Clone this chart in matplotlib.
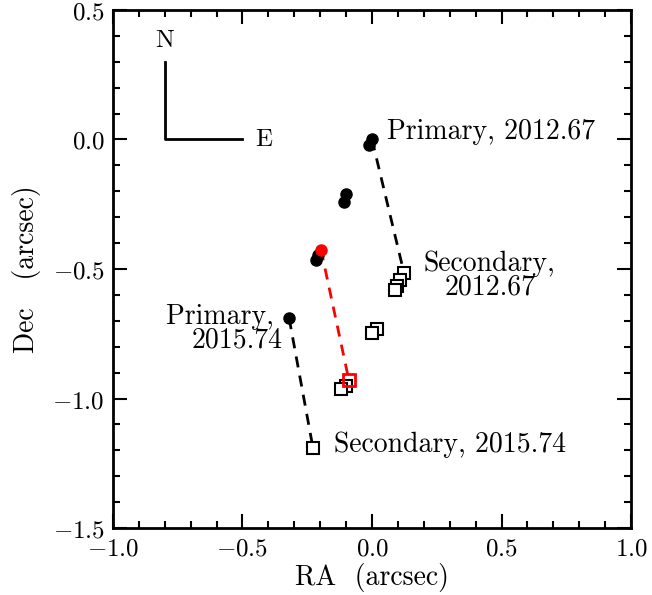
import matplotlib
matplotlib.use("Agg")
import matplotlib.pyplot as plt
from matplotlib.ticker import MultipleLocator

plt.rcParams["mathtext.fontset"] = "cm"
SERIF = ["cmr10", "DejaVu Serif"]

# primary (filled circles), offsets in arcsec
prim_ra = [0.0, -0.01, -0.10, -0.11, -0.216, -0.208, -0.32]
prim_dec = [0.0, -0.02, -0.21, -0.24, -0.467, -0.445, -0.69]
# highlighted primary
red_prim_ra = [-0.197]
red_prim_dec = [-0.425]

# secondary (open squares)
sec_ra = [0.124, 0.108, 0.097, 0.089, 0.019, 0.0, -0.10, -0.12, -0.228]
sec_dec = [-0.517, -0.544, -0.564, -0.583, -0.730, -0.749, -0.95, -0.965, -1.19]
red_sec_ra = [-0.089]
red_sec_dec = [-0.93]

# connecting lines primary -> secondary
pair_2012 = ([0.0, 0.124], [0.0, -0.517])
pair_red = ([-0.197, -0.089], [-0.425, -0.93])
pair_2015 = ([-0.32, -0.228], [-0.69, -1.19])

fig = plt.figure(figsize=(6.52, 5.95), dpi=100)
ax = fig.add_axes([0.1733, 0.1126, 0.7945, 0.8706])

ax.plot(*pair_2012, ls=(0, (4, 3)), color="black", lw=2, zorder=1)
ax.plot(*pair_2015, ls=(0, (4, 3)), color="black", lw=2, zorder=1)
ax.plot(*pair_red, ls=(0, (4, 3)), color="red", lw=2, zorder=1)

ax.plot(prim_ra, prim_dec, "o", color="black", ms=8, zorder=3)
ax.plot(red_prim_ra, red_prim_dec, "o", color="red", ms=8, zorder=4)
ax.plot(sec_ra, sec_dec, "s", mfc="white", mec="black", mew=1.5, ms=9, zorder=3)
ax.plot(red_sec_ra, red_sec_dec, "s", mfc="none", mec="red", mew=2, ms=9, zorder=4)

# compass
ax.plot([-0.8, -0.8, -0.5], [0.3, 0.0, 0.0], color="black", lw=2)
ax.text(-0.8, 0.38, "N", family=SERIF, fontsize=18, ha="center", va="center")
ax.text(-0.42, 0.0, "E", family=SERIF, fontsize=18, ha="center", va="center")

kw = dict(family=SERIF, fontsize=20, va="center")
ax.text(0.058, 0.031, "Primary, 2012.67", ha="left", **kw)
ax.text(0.20, -0.525, "Secondary,\n2012.67", ha="left", multialignment="center",
        linespacing=0.85, **kw)
ax.text(-0.345, -0.73, "Primary, \n2015.74", ha="right", multialignment="right",
        linespacing=0.85, **kw)
ax.text(-0.147, -1.18, "Secondary, 2015.74", ha="left", **kw)

ax.set_xlim(-1.0, 1.0)
ax.set_ylim(-1.5, 0.5)
ax.xaxis.set_minor_locator(MultipleLocator(0.1))
ax.yaxis.set_minor_locator(MultipleLocator(0.1))
ticks = [-1.0, -0.5, 0.0, 0.5, 1.0]
ax.set_xticks(ticks)
ax.set_xticklabels([f"${t:.1f}$" for t in ticks])
yt = [-1.5, -1.0, -0.5, 0.0, 0.5]
ax.set_yticks(yt)
ax.set_yticklabels([f"${t:.1f}$" for t in yt])
ax.tick_params(which="both", direction="in", top=True, right=True, labelsize=18, width=1.5)
ax.tick_params(which="major", length=10, pad=6)
ax.tick_params(which="minor", length=5)
for s in ax.spines.values():
    s.set_linewidth(2)

ax.set_xlabel("RA  (arcsec)", family=SERIF, fontsize=20, labelpad=2)
ax.set_ylabel("Dec   (arcsec)", family=SERIF, fontsize=20, labelpad=8)

fig.savefig("out.png", dpi=100, facecolor="white")
